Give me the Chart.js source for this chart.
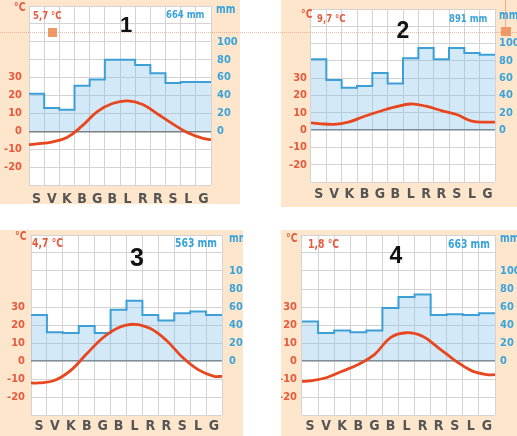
<!DOCTYPE html>
<html>
<head>
<meta charset="utf-8">
<script src="https://cdn.jsdelivr.net/npm/chart.js@4"></script>
<style>
body { margin: 0; width: 517px; height: 436px; position: relative; background: #fff; overflow: hidden;
  font-family: 'Liberation Sans Narrow', 'DejaVu Sans Condensed', sans-serif; }
.panel { position: absolute; background: #fde6cb; overflow: hidden; }
.panel canvas { position: absolute; left: 0; top: 0; }
.t { position: absolute; white-space: nowrap; font-weight: bold; line-height: 1; font-size: 11px;
  transform: translateY(-50%) scaleX(0.86); transform-origin: left center; }
.red { color: #e65a3e; }
.blue { color: #3aa3db; }
.num { font-family: 'Liberation Sans', Arial, sans-serif; color: #111; font-weight: bold; transform: translate(-50%, -50%); }
.sq { position: absolute; background: #ef9a66; }
.dots { position: absolute; left: 0; top: 32px; width: 517px; border-top: 1px dotted rgba(232, 130, 110, 0.55); }
.vline { position: absolute; left: 505px; top: 0; width: 0; height: 27px; border-left: 1px solid rgba(232, 130, 110, 0.6); }
</style>
</head>
<body>
<div class="panel" style="left:0;top:0;width:240px;height:204px">
  <canvas id="c1" width="240" height="204"></canvas>
  <span class="t red" style="left:14px;top:7px;font-size:12px">°C</span>
  <span class="t red" style="left:33px;top:15px">5,7 °C</span>
  <span class="t blue" style="left:166px;top:14px">664 mm</span>
  <span class="t blue" style="left:216px;top:9px;font-size:12px">mm</span>
  <span class="t num" style="left:126px;top:25px;font-size:22px">1</span>
  <div class="sq" style="left:48px;top:28px;width:9px;height:9px"></div>
</div>
<div class="panel" style="left:281px;top:0;width:236px;height:207px">
  <canvas id="c2" width="236" height="207"></canvas>
  <span class="t red" style="left:20px;top:14px;font-size:12px">°C</span>
  <span class="t red" style="left:36px;top:18px">9,7 °C</span>
  <span class="t blue" style="left:168px;top:18px">891 mm</span>
  <span class="t blue" style="left:218px;top:15px;font-size:12px">mm</span>
  <span class="t num" style="left:122px;top:30px;font-size:23px">2</span>
  <div class="sq" style="left:220px;top:27px;width:10px;height:9px"></div>
</div>
<div class="panel" style="left:0;top:230px;width:243px;height:206px">
  <canvas id="c3" width="243" height="206"></canvas>
  <span class="t red" style="left:15px;top:6px;font-size:12px">°C</span>
  <span class="t red" style="left:32px;top:13px;font-size:12px">4,7 °C</span>
  <span class="t blue" style="left:175px;top:13px;font-size:12px">563 mm</span>
  <span class="t blue" style="left:229px;top:8px;font-size:12px">mm</span>
  <span class="t num" style="left:137px;top:27px;font-size:25px">3</span>
</div>
<div class="panel" style="left:281px;top:230px;width:236px;height:206px">
  <canvas id="c4" width="236" height="206"></canvas>
  <span class="t red" style="left:5px;top:8px;font-size:12px">°C</span>
  <span class="t red" style="left:27px;top:14px;font-size:12px">1,8 °C</span>
  <span class="t blue" style="left:167px;top:14px;font-size:12px">663 mm</span>
  <span class="t blue" style="left:219px;top:8px;font-size:12px">mm</span>
  <span class="t num" style="left:115px;top:25px;font-size:23px">4</span>
</div>
<div class="dots"></div>
<div class="vline"></div>

<script>
const months = ['S', 'V', 'K', 'B', 'G', 'B', 'L', 'R', 'R', 'S', 'L', 'G'];

// monthly mean temperature (°C) and precipitation (mm)
const temp1 = [-7, -6, -3.5, 3, 11, 15.5, 17, 15, 9.5, 4, -1, -4];
const tempEdge1 = [-7.5, -4.7];
const precip1 = [42, 26, 24, 51, 58, 80, 80, 74, 65, 54, 55, 55];

const temp2 = [3.8, 3.3, 4.8, 8, 10.9, 13.4, 15.1, 13.8, 11.3, 9, 5.2, 4.6];
const tempEdge2 = [4.2, 4.6];
const precip2 = [82, 58, 49, 51, 66, 54, 83, 95, 82, 95, 89, 87];

const temp3 = [-12.2, -10.7, -5.2, 4, 12.8, 18.5, 20.4, 18, 11.5, 2.2, -4.8, -8.5];
const tempEdge3 = [-12.2, -8.5];
const precip3 = [51, 32, 31, 39, 31, 57, 67, 51, 45, 53, 55, 51];

const temp4 = [-11.1, -9.3, -5.7, -1.9, 3.5, 13, 15.7, 13.7, 7.2, 0.4, -5.2, -7.6];
const tempEdge4 = [-11.3, -7.6];
const precip4 = [44, 31, 34, 32, 34, 59, 71, 74, 51, 52, 51, 53];

const tempTicks = [-20, -10, 0, 10, 20, 30];
const precipTicks = [0, 20, 40, 60, 80, 100];

const RED = '#e65a3e';
const BLUE = '#3aa3db';
const narrow = "'Liberation Sans Narrow', 'DejaVu Sans Condensed', sans-serif";

const plotBg = {
    id: 'plotBg',
    beforeDraw(chart) {
        const a = chart.chartArea;
        const c = chart.ctx;
        c.save();
        c.fillStyle = '#fff';
        c.fillRect(a.left, a.top, a.width, a.height);
        c.restore();
    }
};

const makeClimate = (id, temp, edge, precip, box) => {
    const tempPts = [{ x: 0, y: edge[0] }]
        .concat(temp.map((v, i) => ({ x: i + 0.5, y: v })))
        .concat([{ x: 12, y: edge[1] }]);
    const precipPts = precip.map((v, i) => ({ x: i, y: v }))
        .concat([{ x: 12, y: precip[precip.length - 1] }]);

    return new Chart(document.getElementById(id), {
        type: 'line',
        data: {
            labels: months,
            datasets: [{
                data: tempPts,
                xAxisID: 'x',
                yAxisID: 'y',
                borderColor: '#e8461f',
                borderWidth: 2.8,
                pointRadius: 0,
                tension: 0.4,
                fill: false
            }, {
                data: precipPts,
                xAxisID: 'x',
                yAxisID: 'y2',
                stepped: 'before',
                borderColor: '#3c9fd6',
                borderWidth: 2,
                pointRadius: 0,
                fill: 'origin',
                backgroundColor: 'rgba(120, 188, 230, 0.32)'
            }]
        },
        options: {
            responsive: false,
            animation: false,
            devicePixelRatio: 1,
            layout: { padding: { top: box.top, left: 0, right: 0, bottom: 0 } },
            plugins: { legend: { display: false }, tooltip: { enabled: false } },
            scales: {
                x: { type: 'linear', min: 0, max: 12, display: false },
                xm: {
                    type: 'category',
                    labels: months,
                    position: 'bottom',
                    offset: true,
                    grid: { offset: true, color: '#d3d3d3', drawTicks: false },
                    border: { display: false },
                    ticks: {
                        padding: box.xPad,
                        color: '#555',
                        maxRotation: 0,
                        autoSkip: false,
                        font: { family: narrow, size: 14, weight: 'bold' }
                    },
                    afterFit: s => { s.height = box.xH; s.paddingLeft = 0; s.paddingRight = 0; }
                },
                y: {
                    position: 'left',
                    min: -30,
                    max: 70,
                    grid: {
                        drawTicks: false,
                        color: c => (c.tick && c.tick.value === 0 ? '#7d7d7d' : '#d3d3d3'),
                        lineWidth: c => (c.tick && c.tick.value === 0 ? 1.6 : 1)
                    },
                    border: { display: false },
                    ticks: {
                        stepSize: 10,
                        padding: box.yPad,
                        color: RED,
                        font: { family: narrow, size: 11, weight: 'bold' },
                        callback: v => (tempTicks.includes(v) ? v : '')
                    },
                    afterFit: s => { s.width = box.yW; s.paddingTop = 0; s.paddingBottom = 0; }
                },
                y2: {
                    position: 'right',
                    min: -60,
                    max: 140,
                    grid: { display: false, drawTicks: false },
                    border: { display: false },
                    ticks: {
                        stepSize: 20,
                        padding: box.y2Pad,
                        color: BLUE,
                        font: { family: narrow, size: 11, weight: 'bold' },
                        callback: v => (precipTicks.includes(v) ? v : '')
                    },
                    afterFit: s => { s.width = box.y2W; s.paddingTop = 0; s.paddingBottom = 0; }
                }
            }
        },
        plugins: [plotBg]
    });
};

makeClimate('c1', temp1, tempEdge1, precip1, { top: 6, xH: 19, yW: 29, y2W: 29, yPad: 7, y2Pad: 6, xPad: 6 });
makeClimate('c2', temp2, tempEdge2, precip2, { top: 9, xH: 25, yW: 30, y2W: 22, yPad: 4, y2Pad: 4, xPad: 4 });
makeClimate('c3', temp3, tempEdge3, precip3, { top: 5, xH: 21, yW: 31, y2W: 21, yPad: 6, y2Pad: 7, xPad: 3 });
makeClimate('c4', temp4, tempEdge4, precip4, { top: 5, xH: 21, yW: 21, y2W: 22, yPad: 5, y2Pad: 5, xPad: 3 });
</script>
</body>
</html>
